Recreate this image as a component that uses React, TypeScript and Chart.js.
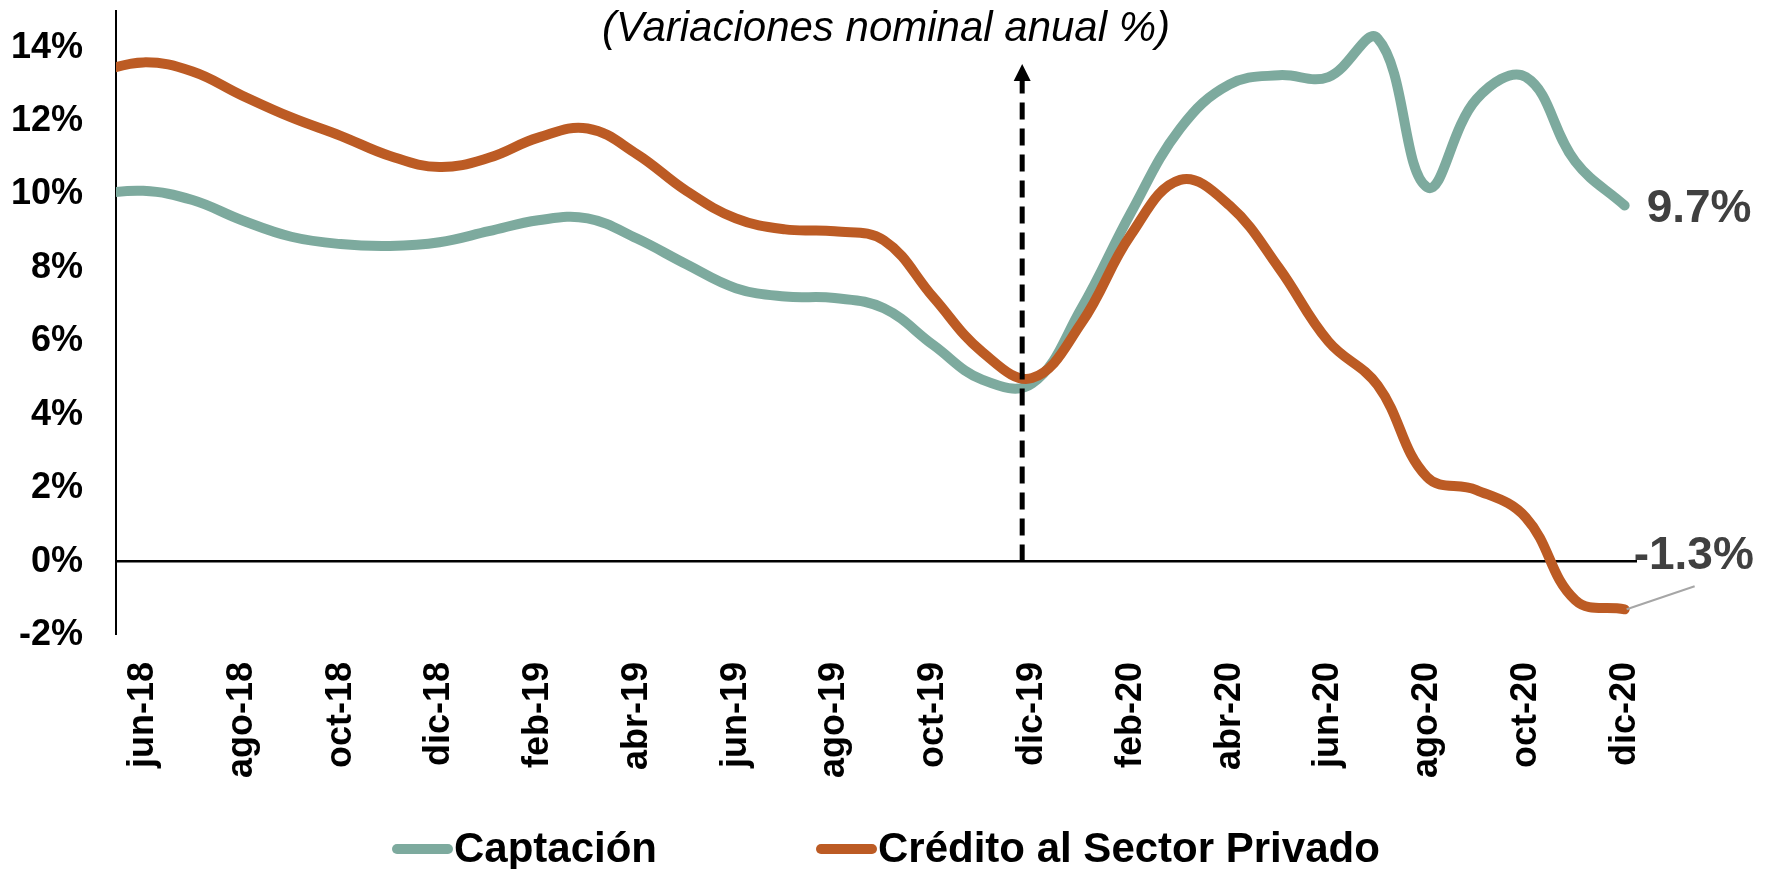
import React, { useEffect, useRef } from "react";
import { Chart, registerables } from "chart.js";

Chart.register(...registerables);

// ---- data ----
const months = [
  "may-18", "jun-18", "jul-18", "ago-18", "sep-18", "oct-18", "nov-18", "dic-18",
  "ene-19", "feb-19", "mar-19", "abr-19", "may-19", "jun-19", "jul-19", "ago-19",
  "sep-19", "oct-19", "nov-19", "dic-19", "ene-20", "feb-20", "mar-20", "abr-20",
  "may-20", "jun-20", "jul-20", "ago-20", "sep-20", "oct-20", "nov-20", "dic-20",
];

const xTickLabels = [
  "jun-18", "ago-18", "oct-18", "dic-18", "feb-19", "abr-19", "jun-19", "ago-19",
  "oct-19", "dic-19", "feb-20", "abr-20", "jun-20", "ago-20", "oct-20", "dic-20",
];

const captacion = [
  10.0, 10.1, 9.85, 9.3, 8.85, 8.65, 8.6, 8.7,
  9.0, 9.3, 9.35, 8.8, 8.1, 7.45, 7.22, 7.18,
  6.9, 5.9, 4.95, 4.85, 6.9, 9.5, 11.8, 13.0,
  13.25, 13.2, 14.25, 10.2, 12.6, 13.2, 10.9, 9.7,
];

const credito = [
  13.3, 13.6, 13.35, 12.7, 12.1, 11.6, 11.05, 10.75,
  11.0, 11.55, 11.8, 11.1, 10.1, 9.35, 9.05, 9.0,
  8.75, 7.2, 5.7, 5.0, 6.5, 8.9, 10.4, 9.7,
  8.0, 6.0, 4.8, 2.3, 1.95, 1.2, -1.05, -1.3,
];

const yTicks = [-2, 0, 2, 4, 6, 8, 10, 12, 14];
const seriesNames = ["Captación", "Crédito al Sector Privado"];
const endLabels = ["9.7%", "-1.3%"];
const titleText = "(Variaciones nominal anual %)";
const arrowMonth = "dic-19";

const TEAL = "#7DAA9E";
const ORANGE = "#BC5B24";
const FONT = "'Liberation Sans', Arial, Helvetica, sans-serif";

const W = 1775;
const H = 869;

const annotations = {
  id: "annotations",
  afterDraw(chart: any) {
    const { ctx } = chart;
    const x = chart.scales.x;
    const y = chart.scales.y;
    ctx.save();

    // title
    ctx.fillStyle = "#000";
    ctx.font = `italic 42px ${FONT}`;
    ctx.textAlign = "center";
    ctx.textBaseline = "middle";
    ctx.fillText(titleText, 886, 29);

    // dashed arrow
    const ax = x.getPixelForValue(months.indexOf(arrowMonth) - 0.2);
    const y0 = y.getPixelForValue(0);
    const yTip = 64;
    ctx.strokeStyle = "#000";
    ctx.lineWidth = 5;
    ctx.setLineDash([17, 9]);
    ctx.beginPath();
    ctx.moveTo(ax, y0);
    ctx.lineTo(ax, yTip + 14);
    ctx.stroke();
    ctx.setLineDash([]);
    ctx.beginPath();
    ctx.moveTo(ax, yTip);
    ctx.lineTo(ax - 8.5, yTip + 17);
    ctx.lineTo(ax + 8.5, yTip + 17);
    ctx.closePath();
    ctx.fill();

    // end labels
    const last = months.length - 1;
    const px = x.getPixelForValue(last);
    const pyC = y.getPixelForValue(captacion[last]);
    const pyO = y.getPixelForValue(credito[last]);
    ctx.fillStyle = "#404040";
    ctx.font = `bold 46px ${FONT}`;
    ctx.textAlign = "left";
    ctx.textBaseline = "middle";
    ctx.fillText(endLabels[0], px + 22, pyC + 4);
    // leader line
    ctx.strokeStyle = "#A6A6A6";
    ctx.lineWidth = 2;
    ctx.beginPath();
    ctx.moveTo(px + 2, pyO);
    ctx.lineTo(px + 70, pyO - 23);
    ctx.stroke();
    ctx.fillText(endLabels[1], px + 9, pyO - 53);

    // legend
    const ly = 849;
    ctx.lineCap = "round";
    ctx.lineWidth = 10;
    ctx.strokeStyle = TEAL;
    ctx.beginPath();
    ctx.moveTo(397, ly);
    ctx.lineTo(448, ly);
    ctx.stroke();
    ctx.strokeStyle = ORANGE;
    ctx.beginPath();
    ctx.moveTo(821, ly);
    ctx.lineTo(872, ly);
    ctx.stroke();
    ctx.fillStyle = "#000";
    ctx.font = `bold 42px ${FONT}`;
    ctx.textAlign = "left";
    ctx.textBaseline = "middle";
    ctx.fillText(seriesNames[0], 454, ly + 1);
    ctx.fillText(seriesNames[1], 878, ly + 1);

    ctx.restore();
  },
};

export default function App() {
  const canvasRef = useRef<HTMLCanvasElement | null>(null);

  useEffect(() => {
    const canvas = canvasRef.current;
    if (!canvas) return;
    const tickIdx = xTickLabels.map((l) => months.indexOf(l));

    const chart = new Chart(canvas, {
      type: "line",
      data: {
        datasets: [
          {
            label: seriesNames[0],
            data: captacion.map((v, i) => ({ x: i, y: v })),
            borderColor: TEAL,
            borderWidth: 10,
            pointRadius: 0,
            tension: 0.4,
            fill: false,
            borderCapStyle: "round",
            borderJoinStyle: "round",
            clip: 0,
            order: 1,
          },
          {
            label: seriesNames[1],
            data: credito.map((v, i) => ({ x: i, y: v })),
            borderColor: ORANGE,
            borderWidth: 10,
            pointRadius: 0,
            tension: 0.4,
            fill: false,
            borderCapStyle: "round",
            borderJoinStyle: "round",
            clip: 0,
            order: 0,
          },
        ],
      },
      options: {
        responsive: false,
        animation: false,
        devicePixelRatio: 1,
        layout: { padding: { left: 0, right: 138, top: 11, bottom: 0 } },
        plugins: {
          legend: { display: false },
          tooltip: { enabled: false },
          title: { display: false },
        },
        scales: {
          x: {
            type: "linear",
            min: 0.45,
            max: 31.25,
            afterBuildTicks: (scale: any) => {
              scale.ticks = tickIdx.map((v) => ({ value: v }));
            },
            afterFit: (scale: any) => {
              scale.height = H - 635;
              scale.paddingLeft = 0;
              scale.paddingRight = 0;
              scale.paddingTop = 0;
              scale.paddingBottom = 0;
            },
            grid: { display: false, drawTicks: false },
            border: { display: false },
            ticks: {
              autoSkip: false,
              maxRotation: 90,
              minRotation: 90,
              padding: 27,
              color: "#000",
              font: { family: FONT, size: 36, weight: "bold" },
              callback: (v: any) => {
                const i = tickIdx.indexOf(Number(v));
                return i >= 0 ? xTickLabels[i] : "";
              },
            },
          },
          y: {
            type: "linear",
            min: -2,
            max: 15,
            afterBuildTicks: (scale: any) => {
              scale.ticks = yTicks.map((v) => ({ value: v }));
            },
            afterFit: (scale: any) => {
              scale.width = 116;
              scale.paddingTop = 0;
              scale.paddingBottom = 0;
              scale.paddingLeft = 0;
              scale.paddingRight = 0;
            },
            grid: {
              drawTicks: false,
              color: (c: any) => (c.tick && c.tick.value === 0 ? "#000" : "rgba(0,0,0,0)"),
              lineWidth: (c: any) => (c.tick && c.tick.value === 0 ? 2.5 : 0),
            },
            border: { display: true, color: "#000", width: 2 },
            ticks: {
              padding: 33,
              color: "#000",
              font: { family: FONT, size: 36, weight: "bold" },
              callback: (v: any) => `${v}%`,
            },
          },
        },
      },
      plugins: [annotations],
    });

    return () => chart.destroy();
  }, []);

  return (
    <div style={{ position: "absolute", left: 0, top: 0, width: W, height: H, background: "#fff" }}>
      <canvas ref={canvasRef} width={W} height={H} style={{ width: W, height: H, display: "block" }} />
    </div>
  );
}
